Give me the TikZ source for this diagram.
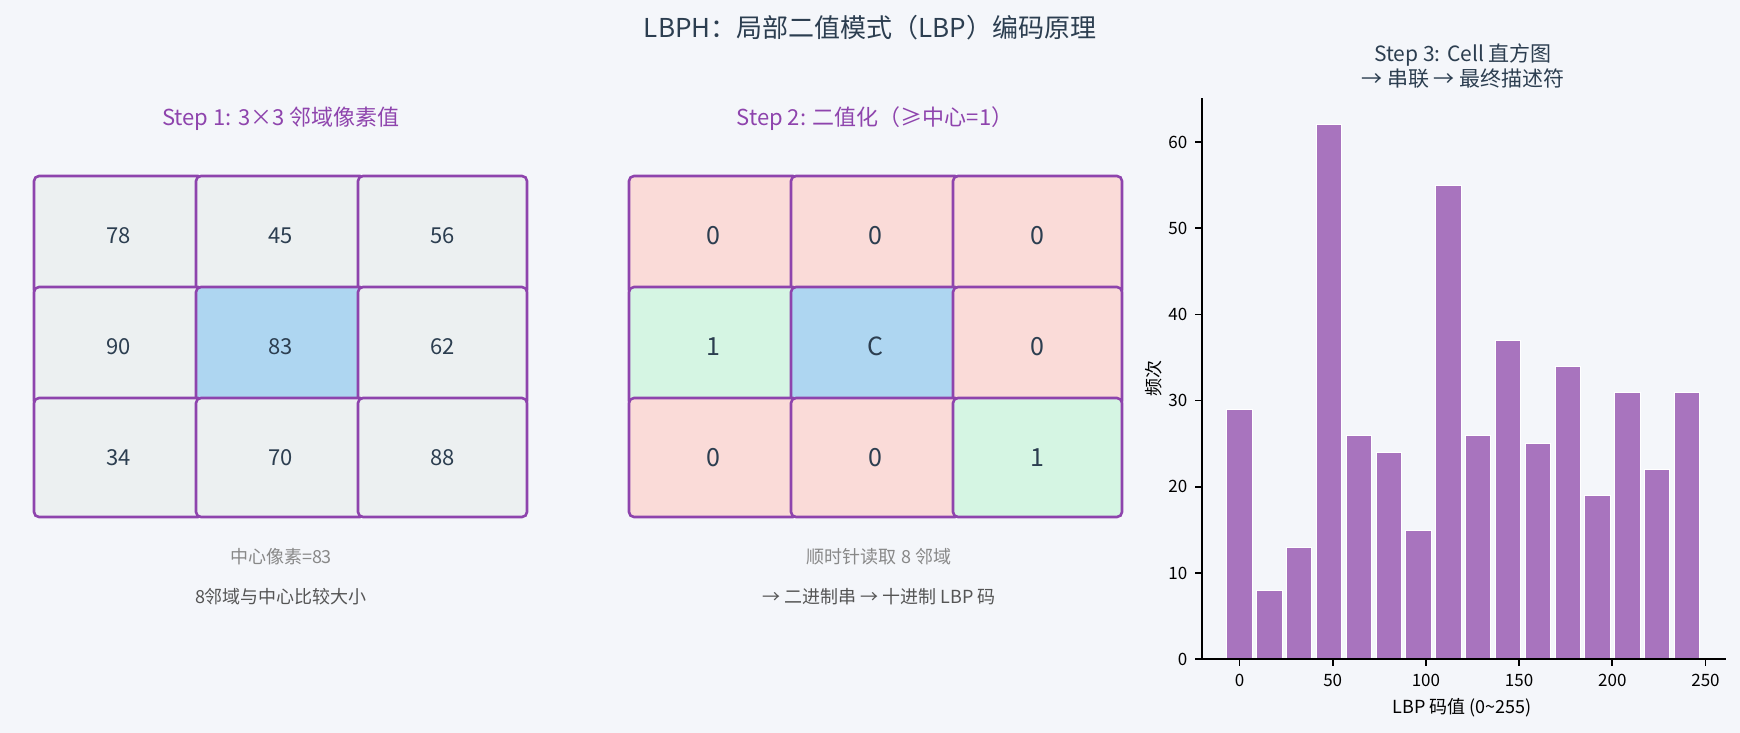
\documentclass[tikz,border=0pt]{standalone}
\usepackage{fontspec}
\setmainfont{Noto Sans CJK SC}
\usetikzlibrary{positioning}
\definecolor{bgcol}{HTML}{F4F6FA}
\definecolor{ink}{HTML}{2C3E50}
\definecolor{lbppurple}{HTML}{8E44AD}
\definecolor{greycell}{HTML}{ECF0F1}
\definecolor{centercell}{HTML}{AED6F1}
\definecolor{zerocell}{HTML}{FADBD8}
\definecolor{onecell}{HTML}{D5F5E3}
\definecolor{barcol}{HTML}{A874BE}
\definecolor{notegrey}{HTML}{888888}
\definecolor{notedark}{HTML}{555555}
\begin{document}
\begin{tikzpicture}[x=0.5pt, y=-0.5pt, node distance=-4pt and -3.5pt,
    cell/.style={draw=lbppurple, line width=1.3pt, rounded corners=2.5pt,
        minimum width=84.5pt, minimum height=59.5pt, inner sep=0pt, outer sep=0pt,
        text=ink, font=\fontsize{11}{13}\selectfont},
    bitcell/.style={cell, font=\fontsize{12.5}{14}\selectfont},
    steplabel/.style={text=lbppurple, font=\fontsize{11}{13}\selectfont},
    note/.style={font=\fontsize{9}{11}\selectfont},
    ticklabel/.style={text=black, font=\fontsize{8.5}{10}\selectfont}]
    \fill[bgcol] (0,0) rectangle (1740,733);
    \useasboundingbox (0,0) rectangle (1740,733);

    \node[text=ink, font=\fontsize{13}{15}\selectfont] (title) at (870,28) {LBPH：局部二值模式（LBP）编码原理};

    % Step 1: pixel values of the 3x3 neighbourhood
    \node[steplabel] (s1) at (281,119) {Step 1: 3×3 邻域像素值};
    \node[cell, fill=greycell] (a1) at (118.5,235.5) {78};
    \node[cell, fill=greycell, right=of a1] (a2) {45};
    \node[cell, fill=greycell, right=of a2] (a3) {56};
    \node[cell, fill=greycell, below=of a1] (a4) {90};
    \node[cell, fill=centercell, right=of a4] (a5) {83};
    \node[cell, fill=greycell, right=of a5] (a6) {62};
    \node[cell, fill=greycell, below=of a4] (a7) {34};
    \node[cell, fill=greycell, right=of a7] (a8) {70};
    \node[cell, fill=greycell, right=of a8] (a9) {88};
    \node[note, text=notegrey] (n1) at (281,557) {中心像素=83};
    \node[note, text=notedark] (n2) at (281,597) {8邻域与中心比较大小};

    % Step 2: thresholded against the centre
    \node[steplabel] (s2) at (875,119) {Step 2: 二值化（≥中心=1）};
    \node[bitcell, fill=zerocell] (b1) at (713.5,235.5) {0};
    \node[bitcell, fill=zerocell, right=of b1] (b2) {0};
    \node[bitcell, fill=zerocell, right=of b2] (b3) {0};
    \node[bitcell, fill=onecell, below=of b1] (b4) {1};
    \node[bitcell, fill=centercell, right=of b4] (b5) {C};
    \node[bitcell, fill=zerocell, right=of b5] (b6) {0};
    \node[bitcell, fill=zerocell, below=of b4] (b7) {0};
    \node[bitcell, fill=zerocell, right=of b7] (b8) {0};
    \node[bitcell, fill=onecell, right=of b8] (b9) {1};
    \node[note, text=notegrey] (n3) at (879,557) {顺时针读取 8 邻域};
    \node[note, text=notedark] (n4) at (879,597) {→ 二进制串 → 十进制 LBP 码};

    % Step 3: histogram of LBP codes
    \node[text=ink, align=center, font=\fontsize{10.5}{12.5}\selectfont] (s3) at (1463,66.5) {Step 3: Cell 直方图\\→ 串联 → 最终描述符};
    \begin{scope}[shift={(1239.5,659.2)}, x=0.932pt, y=4.31pt]
        \foreach \c/\h in {0/29,16/8,32/13,48/62,64/26,80/24,96/15,112/55,
                          128/26,144/37,160/25,176/34,192/19,208/31,224/22,240/31}
            \filldraw[fill=barcol, draw=white, line width=0.4pt] (\c-6.8,0) rectangle (\c+6.8,\h);
        \draw[line width=0.85pt] (-20.2,65.1) -- (-20.2,0) -- (260.8,0);
        \foreach \v in {0,10,...,60}
            \draw[line width=0.85pt] (-20.2,\v) -- ++(-3.5pt,0) node[left, ticklabel] (yt\v) {\v};
        \foreach \v in {0,50,...,250}
            \draw[line width=0.85pt] (\v,0) -- ++(0,-3.5pt) node[below, ticklabel] (xt\v) {\v};
        \node[note, rotate=90] (ylab) at (-45.9,32.6) {频次};
        \node[note] (xlab) at (119.4,-5.66) {LBP 码值 (0\textasciitilde255)};
    \end{scope}
\end{tikzpicture}
\end{document}
